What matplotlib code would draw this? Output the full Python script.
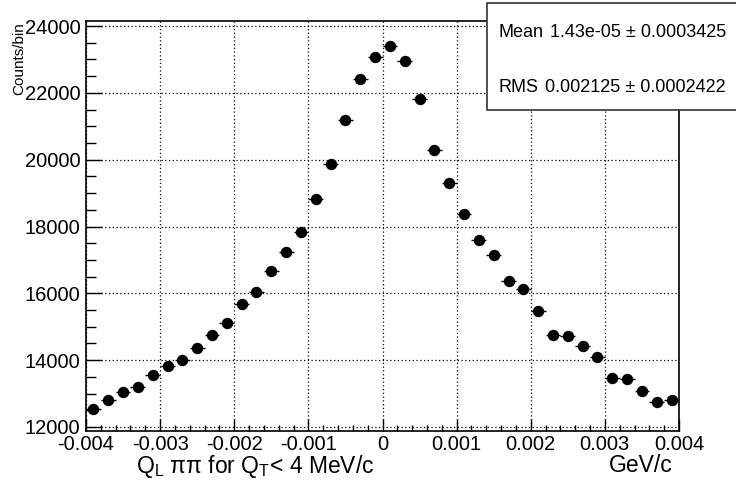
import numpy as np
import matplotlib
matplotlib.use("Agg")
import matplotlib.pyplot as plt
from matplotlib.patches import Rectangle
from matplotlib.ticker import MultipleLocator, FixedFormatter, FixedLocator

plt.rcParams['font.family'] = ['Liberation Sans', 'DejaVu Sans']
plt.rcParams['mathtext.fontset'] = 'custom'
plt.rcParams['mathtext.rm'] = 'Liberation Sans'
plt.rcParams['mathtext.it'] = 'Liberation Sans'
plt.rcParams['mathtext.default'] = 'regular'

# bin centres (GeV/c) and counts
bin_width = 0.0002
bin_centers = np.arange(-0.0039, 0.0040, bin_width)
counts = [12530, 12820, 13060, 13210, 13560, 13830, 14010, 14350, 14740, 15120,
          15680, 16040, 16660, 17250, 17840, 18830, 19880, 21180, 22420, 23070,
          23400, 22960, 21810, 20290, 19290, 18380, 17590, 17150, 16360, 16140,
          15460, 14750, 14730, 14420, 14090, 13480, 13440, 13070, 12760, 12810]
x_ticks = [-0.004, -0.003, -0.002, -0.001, 0, 0.001, 0.002, 0.003, 0.004]
x_labels = ['-0.004', '-0.003', '-0.002', '-0.001', '0', '0.001', '0.002', '0.003', '0.004']
y_ticks = [12000, 14000, 16000, 18000, 20000, 22000, 24000]

counts = np.array(counts, dtype=float)

fig = plt.figure(figsize=(7.36, 4.82), dpi=100)
ax = fig.add_axes([86 / 736, 1 - 431 / 482, (679 - 86) / 736, (431 - 21) / 482])

ax.errorbar(bin_centers, counts, xerr=bin_width / 2, yerr=np.sqrt(counts),
            fmt='o', color='black', ms=7.2, elinewidth=1, capsize=0, zorder=3)

ax.set_xlim(-0.004, 0.004)
ax.set_ylim(11880, 24150)

ax.xaxis.set_major_locator(FixedLocator(x_ticks))
ax.xaxis.set_major_formatter(FixedFormatter(x_labels))
ax.xaxis.set_minor_locator(MultipleLocator(0.0002))
ax.yaxis.set_major_locator(FixedLocator(y_ticks))
ax.yaxis.set_minor_locator(MultipleLocator(500))

ax.tick_params(axis='both', which='both', direction='in', top=False, right=False,
               labelsize=14.5, width=1)
ax.tick_params(axis='x', which='major', length=8.6, pad=3)
ax.tick_params(axis='x', which='minor', length=4.3)
ax.tick_params(axis='y', which='major', length=11.5, pad=4)
ax.tick_params(axis='y', which='minor', length=7.2)

ax.grid(True, which='major', color='black', linestyle=(0, (1, 2)), linewidth=0.9)
for s in ax.spines.values():
    s.set_linewidth(1.2)

fig.text(19 / 736, 1 - 22 / 482, 'Counts/bin', rotation=90, ha='center', va='top',
         fontsize=11)
fig.text(136 / 736, 1 - 473 / 482, r'Q$_{L}$ ππ for Q$_{T}$< 4 MeV/c',
         ha='left', va='baseline', fontsize=16.5)
fig.text(673 / 736, 1 - 472 / 482, 'GeV/c', ha='right', va='baseline', fontsize=16.5)

# stats box
box = Rectangle((487 / 736, 1 - 110 / 482), 260 / 736, 107 / 482,
                transform=fig.transFigure, facecolor='white', edgecolor='#333333',
                linewidth=1.2, zorder=5)
fig.patches.append(box)
fig.text(499 / 736, 1 - 37 / 482, 'Mean', ha='left', va='baseline', fontsize=13, zorder=6)
fig.text(726 / 736, 1 - 37 / 482, '1.43e-05 ± 0.0003425', ha='right', va='baseline',
         fontsize=13, zorder=6)
fig.text(499 / 736, 1 - 92 / 482, 'RMS', ha='left', va='baseline', fontsize=13, zorder=6)
fig.text(726 / 736, 1 - 92 / 482, '0.002125 ± 0.0002422', ha='right', va='baseline',
         fontsize=13, zorder=6)

fig.savefig('out.png', dpi=100)
